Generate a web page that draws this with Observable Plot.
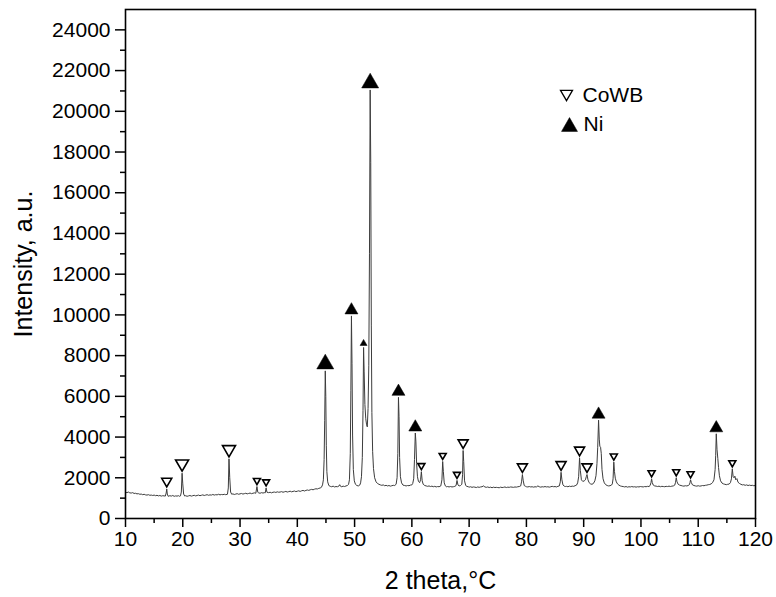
<!DOCTYPE html>
<html>
<head>
<meta charset="utf-8">
<script src="https://cdn.jsdelivr.net/npm/d3@7"></script>
<script src="https://cdn.jsdelivr.net/npm/@observablehq/plot@0.6"></script>
<style>
  html, body { margin: 0; padding: 0; background: #fff; }
  #chart svg { display: block; }
</style>
</head>
<body>
<div id="chart"></div>
<script>
// XRD pattern: [2θ (deg), intensity (a.u.)]
const pattern = [
  [10.00,1290],[10.25,1270],[10.50,1300],[10.75,1260],[11.00,1250],[11.25,1270],[11.50,1230],[11.75,1240],
  [12.00,1210],[12.25,1220],[12.50,1190],[12.75,1200],[13.00,1170],[13.25,1190],[13.50,1160],[13.75,1150],
  [14.00,1170],[14.25,1140],[14.50,1150],[14.75,1130],[15.00,1150],[15.25,1120],[15.50,1140],[15.75,1110],
  [16.00,1130],[16.25,1100],[16.50,1120],[16.75,1110],[16.95,1100],[17.10,1250],[17.20,1450],[17.30,1200],
  [17.45,1090],[17.75,1120],[18.00,1100],[18.25,1130],[18.50,1090],[18.75,1110],[19.00,1100],[19.25,1120],
  [19.45,1090],[19.60,1110],[19.75,1300],[19.88,2225],[20.00,1700],[20.15,1200],[20.35,1100],[20.50,1120],
  [20.75,1090],[21.00,1110],[21.25,1130],[21.50,1100],[21.75,1120],[22.00,1140],[22.25,1110],[22.50,1130],
  [22.75,1150],[23.00,1120],[23.25,1140],[23.50,1160],[23.75,1130],[24.00,1150],[24.25,1170],[24.50,1140],
  [24.75,1160],[25.00,1150],[25.25,1180],[25.50,1150],[25.75,1170],[26.00,1160],[26.25,1190],[26.50,1160],
  [26.75,1180],[27.00,1170],[27.25,1190],[27.50,1170],[27.80,1190],[27.95,1500],[28.07,2930],[28.20,2000],
  [28.35,1300],[28.55,1190],[28.75,1210],[29.00,1180],[29.25,1200],[29.50,1220],[29.75,1190],[30.00,1210],
  [30.25,1230],[30.50,1200],[30.75,1220],[31.00,1240],[31.25,1210],[31.50,1230],[31.75,1250],[32.00,1220],
  [32.25,1240],[32.50,1260],[32.75,1240],[32.95,1570],[33.10,1290],[33.25,1260],[33.50,1240],[33.75,1270],
  [34.00,1250],[34.25,1270],[34.40,1260],[34.55,1500],[34.70,1290],[35.00,1270],[35.25,1290],[35.50,1260],
  [35.75,1290],[36.00,1300],[36.25,1280],[36.50,1310],[36.75,1290],[37.00,1300],[37.25,1320],[37.50,1290],
  [37.75,1310],[38.00,1330],[38.25,1300],[38.50,1320],[38.75,1340],[39.00,1310],[39.25,1330],[39.50,1350],
  [39.75,1320],[40.00,1340],[40.25,1360],[40.50,1330],[40.75,1360],[41.00,1380],[41.25,1350],[41.50,1380],
  [41.75,1400],[42.00,1380],[42.25,1410],[42.50,1430],[42.75,1410],[43.00,1440],[43.25,1460],[43.50,1450],
  [43.75,1480],[44.00,1500],[44.20,1530],[44.40,1650],[44.55,1900],[44.68,2900],[44.78,4800],[44.88,7250],
  [44.97,6000],[45.06,3600],[45.16,2300],[45.30,1800],[45.50,1620],[45.75,1580],[46.00,1560],[46.25,1590],
  [46.50,1550],[46.75,1570],[47.00,1560],[47.25,1590],[47.40,1660],[47.55,1580],[47.75,1560],[48.00,1590],
  [48.25,1570],[48.50,1600],[48.75,1620],[48.95,1680],[49.10,1900],[49.25,3200],[49.35,6300],[49.45,9950],
  [49.55,7600],[49.65,4100],[49.78,2400],[49.95,1850],[50.15,1680],[50.40,1620],[50.65,1600],[50.90,1640],
  [51.05,1750],[51.20,2050],[51.35,3000],[51.47,5300],[51.57,8400],[51.67,7200],[51.80,5600],[51.95,4900],
  [52.10,4600],[52.22,4500],[52.35,5400],[52.48,7500],[52.60,13000],[52.72,21050],[52.82,17500],[52.92,9500],
  [53.02,5200],[53.15,3300],[53.30,2450],[53.50,2000],[53.75,1800],[54.00,1720],[54.25,1680],[54.50,1650],
  [54.75,1630],[55.00,1650],[55.25,1610],[55.50,1630],[55.75,1600],[56.00,1620],[56.25,1590],[56.50,1610],
  [56.75,1630],[57.00,1620],[57.25,1680],[57.42,2000],[57.55,3200],[57.66,5950],[57.76,5000],[57.86,3000],
  [58.00,2050],[58.20,1750],[58.45,1640],[58.75,1620],[59.00,1600],[59.25,1620],[59.50,1610],[59.75,1640],
  [60.00,1650],[60.15,1720],[60.32,1950],[60.46,2900],[60.60,4200],[60.70,3800],[60.83,2700],[60.98,2050],
  [61.15,1820],[61.35,1760],[61.52,1900],[61.66,2300],[61.80,1850],[61.98,1680],[62.25,1620],[62.50,1600],
  [62.75,1580],[63.00,1600],[63.25,1570],[63.50,1590],[63.75,1560],[64.00,1580],[64.25,1550],[64.50,1570],
  [64.75,1560],[65.05,1600],[65.25,1900],[65.38,2800],[65.50,2300],[65.65,1750],[65.85,1600],[66.00,1560],
  [66.25,1570],[66.50,1550],[66.75,1570],[67.00,1550],[67.25,1560],[67.50,1580],[67.72,1620],[67.88,1870],
  [68.05,1650],[68.25,1600],[68.50,1620],[68.72,1680],[68.85,2150],[68.95,3340],[69.05,2800],[69.20,1850],
  [69.40,1620],[69.60,1580],[69.85,1560],[70.00,1540],[70.25,1560],[70.50,1530],[70.75,1550],[71.00,1540],
  [71.25,1520],[71.50,1550],[71.75,1530],[72.00,1550],[72.25,1560],[72.50,1600],[72.75,1550],[73.00,1530],
  [73.25,1550],[73.50,1520],[73.75,1540],[74.00,1510],[74.25,1540],[74.50,1520],[74.75,1530],[75.00,1520],
  [75.25,1510],[75.50,1540],[75.75,1520],[76.00,1530],[76.25,1550],[76.50,1520],[76.75,1540],[77.00,1530],
  [77.25,1550],[77.50,1540],[77.75,1530],[78.00,1550],[78.25,1540],[78.50,1560],[78.75,1570],[79.00,1600],
  [79.15,1800],[79.30,2160],[79.45,1850],[79.62,1620],[79.85,1580],[80.00,1560],[80.25,1550],[80.50,1570],
  [80.75,1550],[81.00,1560],[81.25,1540],[81.50,1560],[81.75,1550],[82.00,1600],[82.25,1560],[82.50,1540],
  [82.75,1560],[83.00,1550],[83.25,1570],[83.50,1550],[83.75,1560],[84.00,1540],[84.25,1560],[84.50,1580],
  [84.75,1560],[85.00,1570],[85.25,1550],[85.50,1580],[85.75,1600],[85.92,1800],[86.05,2270],[86.20,1900],
  [86.38,1650],[86.60,1590],[86.85,1570],[87.00,1580],[87.25,1560],[87.50,1590],[87.75,1570],[88.00,1590],
  [88.25,1580],[88.50,1610],[88.75,1640],[88.95,1750],[89.12,2050],[89.28,2980],[89.42,2350],[89.60,1900],
  [89.85,1820],[90.10,1850],[90.30,1900],[90.45,2050],[90.58,2160],[90.75,1900],[90.95,1760],[91.20,1700],
  [91.45,1680],[91.70,1720],[91.95,1850],[92.15,2100],[92.32,2700],[92.45,3500],[92.60,4830],[92.72,3900],
  [92.82,3550],[92.95,3500],[93.07,3200],[93.20,2400],[93.38,1950],[93.60,1750],[93.85,1660],[94.10,1620],
  [94.35,1600],[94.60,1610],[94.85,1640],[95.00,1700],[95.13,1950],[95.26,2770],[95.38,2300],[95.52,1980],
  [95.70,1800],[95.90,1700],[96.15,1640],[96.40,1600],[96.65,1580],[96.90,1570],[97.15,1550],[97.40,1570],
  [97.65,1540],[97.90,1560],[98.15,1550],[98.40,1570],[98.65,1550],[98.90,1560],[99.15,1540],[99.40,1560],
  [99.65,1550],[99.90,1570],[100.15,1560],[100.40,1550],[100.65,1570],[100.90,1560],[101.15,1580],[101.40,1570],
  [101.60,1620],[101.75,1760],[101.86,1950],[101.98,1760],[102.15,1640],[102.40,1600],[102.65,1590],[102.90,1570],
  [103.15,1590],[103.40,1560],[103.65,1580],[103.90,1570],[104.15,1560],[104.40,1580],[104.65,1570],[104.90,1590],
  [105.15,1570],[105.40,1590],[105.65,1600],[105.90,1640],[106.04,1780],[106.16,2000],[106.30,1800],[106.50,1680],
  [106.75,1640],[107.00,1620],[107.25,1600],[107.50,1590],[107.75,1610],[108.00,1600],[108.25,1620],[108.45,1660],
  [108.56,1760],[108.66,1900],[108.80,1760],[109.00,1650],[109.25,1620],[109.50,1600],[109.75,1590],[110.00,1610],
  [110.25,1590],[110.50,1600],[110.75,1620],[111.00,1610],[111.25,1630],[111.50,1640],[111.75,1660],[112.00,1670],
  [112.25,1700],[112.50,1760],[112.75,1900],[112.95,2400],[113.05,3100],[113.15,4160],[113.28,3400],[113.42,2950],
  [113.55,2500],[113.70,2100],[113.90,1850],[114.15,1740],[114.40,1700],[114.65,1680],[114.90,1660],[115.15,1680],
  [115.40,1690],[115.62,1760],[115.80,1950],[115.95,2440],[116.10,2050],[116.25,2000],[116.40,2080],[116.55,1900],
  [116.75,1960],[116.95,1780],[117.20,1720],[117.45,1680],[117.70,1650],[117.95,1660],[118.20,1630],[118.45,1650],
  [118.70,1620],[118.95,1640],[119.20,1620],[119.45,1630],[119.70,1610],[120.00,1620]
];

// Indexed reflections (peak position, peak intensity, relative strength)
const cowbTheta     = [17.20, 19.88, 28.07, 32.95, 34.55, 61.66, 65.38, 67.88, 68.95, 79.30, 86.05, 89.28, 90.58, 95.26, 101.86, 106.16, 108.66, 115.95];
const cowbIntensity = [1450, 2225, 2930, 1570, 1500, 2300, 2800, 1870, 3340, 2160, 2270, 2980, 2160, 2770, 1950, 2000, 1900, 2440];
const cowbStrength  = ["medium", "strong", "strong", "weak", "weak", "weak", "weak", "weak", "medium", "medium", "medium", "medium", "medium", "weak", "weak", "weak", "weak", "weak"];

const niTheta     = [44.88, 49.45, 51.57, 52.72, 57.66, 60.60, 92.60, 113.15];
const niIntensity = [7250, 9950, 8400, 21050, 5950, 4200, 4830, 4160];
const niStrength  = ["strong", "medium", "weak", "strong", "medium", "medium", "medium", "medium"];

const legendLabels = ["CoWB", "Ni"];

// Axis ticks
const xMajorTicks = [10, 20, 30, 40, 50, 60, 70, 80, 90, 100, 110, 120];
const xMinorTicks = [15, 25, 35, 45, 55, 65, 75, 85, 95, 105, 115];
const yMajorTicks = [0, 2000, 4000, 6000, 8000, 10000, 12000, 14000, 16000, 18000, 20000, 22000, 24000];
const yMinorTicks = [1000, 3000, 5000, 7000, 9000, 11000, 13000, 15000, 17000, 19000, 21000, 23000];

// Marker half-widths (px) per reflection strength
const cowbHalfWidth = {strong: 6.5, medium: 5, weak: 3.5};
const niHalfWidth = {strong: 8.5, medium: 6.5, weak: 3.5};

// Triangles sitting just above the anchor point (peak top)
const GAP = 2;
const triangleDownAbove = {
  draw(ctx, size) {
    const r = Math.sqrt(size / Math.PI), h = r * Math.sqrt(3), b = -GAP;
    ctx.moveTo(-r, b - h); ctx.lineTo(r, b - h); ctx.lineTo(0, b); ctx.closePath();
  }
};
const triangleUpAbove = {
  draw(ctx, size) {
    const r = Math.sqrt(size / Math.PI), h = r * Math.sqrt(3), b = -GAP;
    ctx.moveTo(0, b - h); ctx.lineTo(r, b); ctx.lineTo(-r, b); ctx.closePath();
  }
};
// Centered triangles for the legend
const triangleDownCentered = {
  draw(ctx, size) {
    const r = Math.sqrt(size / Math.PI), h = r * Math.sqrt(3);
    ctx.moveTo(-r, -h / 2); ctx.lineTo(r, -h / 2); ctx.lineTo(0, h / 2); ctx.closePath();
  }
};
const triangleUpCentered = {
  draw(ctx, size) {
    const r = Math.sqrt(size / Math.PI), h = r * Math.sqrt(3);
    ctx.moveTo(0, -h / 2); ctx.lineTo(r, h / 2); ctx.lineTo(-r, h / 2); ctx.closePath();
  }
};

const cowb = cowbTheta.map((t, i) => ({theta: t, intensity: cowbIntensity[i], strength: cowbStrength[i]}));
const ni = niTheta.map((t, i) => ({theta: t, intensity: niIntensity[i], strength: niStrength[i]}));

const FONT = "'Liberation Sans', Arial, Helvetica, sans-serif";

const chart = Plot.plot({
  width: 776,
  height: 597,
  marginLeft: 125,
  marginRight: 21,
  marginTop: 9,
  marginBottom: 79,
  style: {fontFamily: FONT, background: "#fff", color: "#000"},
  x: {domain: [10, 120]},
  y: {domain: [0, 25000]},
  r: {type: "identity"},
  marks: [
    Plot.line(pattern, {x: d => d[0], y: d => d[1], stroke: "#3c3c3c", strokeWidth: 1}),
    Plot.dot(cowb, {x: "theta", y: "intensity", r: d => cowbHalfWidth[d.strength], symbol: triangleDownAbove,
      fill: "#fff", stroke: "#000", strokeWidth: 1.6}),
    Plot.dot(ni, {x: "theta", y: "intensity", r: d => niHalfWidth[d.strength], symbol: triangleUpAbove,
      fill: "#000", stroke: "#000", strokeWidth: 0.5}),
    // legend
    Plot.dot([legendLabels[0]], {frameAnchor: "top-left", dx: 441, dy: 86, r: 6, symbol: triangleDownCentered,
      fill: "none", stroke: "#000", strokeWidth: 1.3}),
    Plot.dot([legendLabels[1]], {frameAnchor: "top-left", dx: 444, dy: 115, r: 8, symbol: triangleUpCentered,
      fill: "#000", stroke: "#000", strokeWidth: 0.5}),
    Plot.text([legendLabels[0]], {text: d => d, frameAnchor: "top-left", dx: 457, dy: 86,
      textAnchor: "start", lineAnchor: "middle", fontSize: 21, fill: "#000"}),
    Plot.text([legendLabels[1]], {text: d => d, frameAnchor: "top-left", dx: 458, dy: 115,
      textAnchor: "start", lineAnchor: "middle", fontSize: 21, fill: "#000"}),
    // axes
    Plot.axisX(xMajorTicks, {tickSize: 9, tickPadding: 4, strokeWidth: 1.5, fontSize: 21, label: null}),
    Plot.axisX(xMinorTicks, {tickSize: 5, strokeWidth: 1.5, tickFormat: () => "", label: null}),
    Plot.axisY(yMajorTicks, {tickSize: 10, tickPadding: 5, strokeWidth: 1.5, fontSize: 21, label: null,
      tickFormat: d => String(d)}),
    Plot.axisY(yMinorTicks, {tickSize: 5, strokeWidth: 1.5, tickFormat: () => "", label: null}),
    Plot.frame({stroke: "#000", strokeWidth: 1.6}),
    // axis titles
    Plot.text(["Intensity, a.u."], {text: d => d, frameAnchor: "left", dx: -102, rotate: -90,
      textAnchor: "middle", lineAnchor: "middle", fontSize: 25, fill: "#000"}),
    Plot.text(["2 theta,°C"], {text: d => d, frameAnchor: "bottom", dy: 62,
      textAnchor: "middle", lineAnchor: "middle", fontSize: 25, fill: "#000"})
  ]
});

document.getElementById("chart").appendChild(chart);
</script>
</body>
</html>
